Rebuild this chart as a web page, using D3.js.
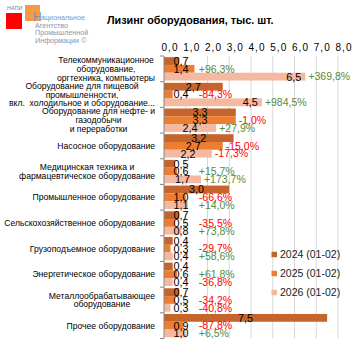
<!DOCTYPE html>
<html>
<head>
<meta charset="utf-8">
<script src="https://cdn.jsdelivr.net/npm/d3@7"></script>
<style>
  body { margin: 0; background: #fff; }
  svg { display: block; }
  text { font-family: "Liberation Sans", Arial, sans-serif; }
  .narrow { font-family: "Liberation Sans Narrow", "Arial Narrow", "Liberation Sans", sans-serif; }
</style>
</head>
<body>
<svg id="chart" width="353" height="353"></svg>
<script>
// Категории (строки подписей, как перенесено на картинке)
const categories = [
  ["Телекоммуникационное", "оборудование,", "оргтехника, компьютеры"],
  ["Оборудование для пищевой", "промышленности,", "вкл.  холодильное и оборудование..."],
  ["Оборудование для нефте- и", "газодобычи", "и переработки"],
  ["Насосное оборудование"],
  ["Медицинская техника и", "фармацевтическое оборудование"],
  ["Промышленное оборудование"],
  ["Сельскохозяйственное оборудование"],
  ["Грузоподъемное оборудование"],
  ["Энергетическое оборудование"],
  ["Металлообрабатывающее", "оборудование"],
  ["Прочее оборудование"]
];

const seriesNames = ["2024 (01-02)", "2025 (01-02)", "2026 (01-02)"];
const values2024 = [0.7, 2.7, 3.3, 3.2, 0.5, 3.0, 0.7, 0.4, 0.4, 0.7, 7.5];
const values2025 = [1.4, 0.4, 3.3, 2.7, 0.6, 1.0, 0.5, 0.3, 0.6, 0.5, 0.9];
const values2026 = [6.5, 4.5, 2.4, 2.2, 1.7, 1.1, 0.8, 0.4, 0.4, 0.3, 1.0];

// Изменение к предыдущему году, %
const change2025 = [96.3, -84.3, -1.0, -15.0, 15.7, -66.6, -35.5, -29.7, 61.8, -34.2, -87.8];
const change2026 = [369.8, 984.5, 27.9, -17.3, 173.7, 14.0, 73.8, 58.6, -36.8, -40.8, 6.5];

const xTicks = [0, 1, 2, 3, 4, 5, 6, 7, 8];
const colors = ["#C5652B", "#ED7D31", "#F5B8A0"];

const allValues = [values2024, values2025, values2026];
const allChanges = [null, change2025, change2026];

const svg = d3.select("#chart");
svg.append("rect").attr("width", 353).attr("height", 353).attr("fill", "#fff");

// Шкалы
const plotTop = 56, plotBottom = 338.5;
const x = d3.scaleLinear().domain([0, 8]).range([164, 338]);
const y = d3.scaleBand()
  .domain(d3.range(categories.length))
  .range([plotTop, plotBottom])
  .paddingInner(0.09)
  .paddingOuter(0.045);
const yInner = d3.scaleBand().domain([0, 1, 2]).range([0, y.bandwidth()]);

const fmt = v => d3.format(".1f")(Math.abs(v)).replace(".", ",");

// Сетка
svg.append("g").selectAll("line")
  .data(xTicks.slice(1))
  .enter().append("line")
  .attr("x1", d => x(d)).attr("x2", d => x(d))
  .attr("y1", plotTop).attr("y2", plotBottom)
  .attr("stroke", "#d9d9d9").attr("stroke-width", 1);

// Подписи оси X сверху
svg.append("g").selectAll("text")
  .data(xTicks)
  .enter().append("text")
  .attr("x", d => x(d) + 6)
  .attr("y", 51)
  .attr("text-anchor", "middle")
  .attr("font-size", 10)
  .attr("letter-spacing", 1)
  .attr("fill", "#000")
  .text(d => fmt(d));

// Столбцы
categories.forEach((cat, i) => {
  allValues.forEach((vals, s) => {
    svg.append("rect")
      .attr("x", x(0))
      .attr("y", y(i) + yInner(s))
      .attr("width", x(vals[i]) - x(0))
      .attr("height", yInner.bandwidth())
      .attr("fill", colors[s]);
  });
});

// Вертикальная ось с делениями
const step = y.step();
svg.append("line")
  .attr("x1", x(0)).attr("x2", x(0))
  .attr("y1", plotTop).attr("y2", plotBottom)
  .attr("stroke", "#868686");
svg.append("g").selectAll("line")
  .data(d3.range(categories.length + 1))
  .enter().append("line")
  .attr("x1", x(0) - 4).attr("x2", x(0))
  .attr("y1", d => plotTop + d * step).attr("y2", d => plotTop + d * step)
  .attr("stroke", "#868686");

// Подписи значений
categories.forEach((cat, i) => {
  allValues.forEach((vals, s) => {
    const v = vals[i];
    const cy = y(i) + yInner(s) + yInner.bandwidth() / 2;
    const atEnd = s === 2 && v > 4;
    svg.append("text")
      .attr("class", "narrow")
      .attr("x", atEnd ? x(v) - 4 : Math.max(x(v / 2), x(0) + 17))
      .attr("y", cy)
      .attr("dy", "0.36em")
      .attr("text-anchor", atEnd ? "end" : "middle")
      .attr("font-size", 10.8)
      .attr("fill", "#000")
      .text(fmt(v));
  });
});

// Подписи изменений в %
categories.forEach((cat, i) => {
  [1, 2].forEach(s => {
    const v = allValues[s][i];
    const c = allChanges[s][i];
    const cy = y(i) + yInner(s) + yInner.bandwidth() / 2;
    svg.append("text")
      .attr("class", "narrow")
      .attr("x", Math.max(x(v) + 3, x(1.6)))
      .attr("y", cy)
      .attr("dy", "0.36em")
      .attr("font-size", 10.5)
      .attr("fill", c >= 0 ? "#5B8A36" : "#FF0000")
      .text((c >= 0 ? "+" : "-") + fmt(c) + "%");
  });
});

// Подписи категорий
const lineH = 8.9;
categories.forEach((lines, i) => {
  const g = svg.append("g");
  const cy = plotTop + (i + 0.5) * step;
  const texts = g.selectAll("text")
    .data(lines)
    .enter().append("text")
    .attr("y", (d, k) => cy + (k - (lines.length - 1) / 2) * lineH)
    .attr("dy", "0.35em")
    .attr("font-size", 8.6)
    .attr("fill", "#000")
    .attr("text-anchor", "middle")
    .style("white-space", "pre")
    .text(d => d);
  const maxW = d3.max(texts.nodes(), n => n.getComputedTextLength());
  texts.attr("x", 155 - maxW / 2);
});

// Легенда
const legend = svg.append("g").selectAll("g")
  .data(seriesNames)
  .enter().append("g")
  .attr("transform", (d, k) => `translate(271.5, ${254.5 + k * 19})`);
legend.append("rect")
  .attr("x", 0).attr("y", -2.75)
  .attr("width", 5.5).attr("height", 5.5)
  .attr("fill", (d, k) => colors[k]);
legend.append("text")
  .attr("class", "narrow")
  .attr("x", 8.5).attr("dy", "0.36em")
  .attr("font-size", 10.5)
  .attr("fill", "#222")
  .text(d => d);

// Заголовок
svg.append("text")
  .attr("x", 107).attr("y", 24)
  .attr("font-size", 10.8)
  .attr("font-weight", "bold")
  .attr("fill", "#000")
  .text("Лизинг оборудования, тыс. шт.");

// Логотип НАПИ
const logo = svg.append("g");
logo.append("rect").attr("x", 6).attr("y", 13).attr("width", 16).attr("height", 16).attr("fill", "#FF0000");
logo.append("rect").attr("x", 25).attr("y", 5).attr("width", 15).attr("height", 16).attr("fill", "#F59A45");
logo.append("text").attr("x", 7).attr("y", 10).attr("font-size", 5.5).attr("fill", "#6f82a6").text("НАПИ");
logo.append("text").attr("x", 33).attr("y", 20.5).attr("font-size", 12).attr("fill", "#7f8fab").text("Н");
const logoLines = [["ациональное", 41, 20], ["Агентство", 35, 27.5], ["Промышленной", 35, 35], ["Информации ©", 35, 42.5]];
logo.selectAll("text.l")
  .data(logoLines)
  .enter().append("text")
  .attr("class", "l")
  .attr("x", d => d[1]).attr("y", d => d[2])
  .attr("font-size", 7.2)
  .attr("fill", "#8796b2")
  .text(d => d[0]);
</script>
</body>
</html>
